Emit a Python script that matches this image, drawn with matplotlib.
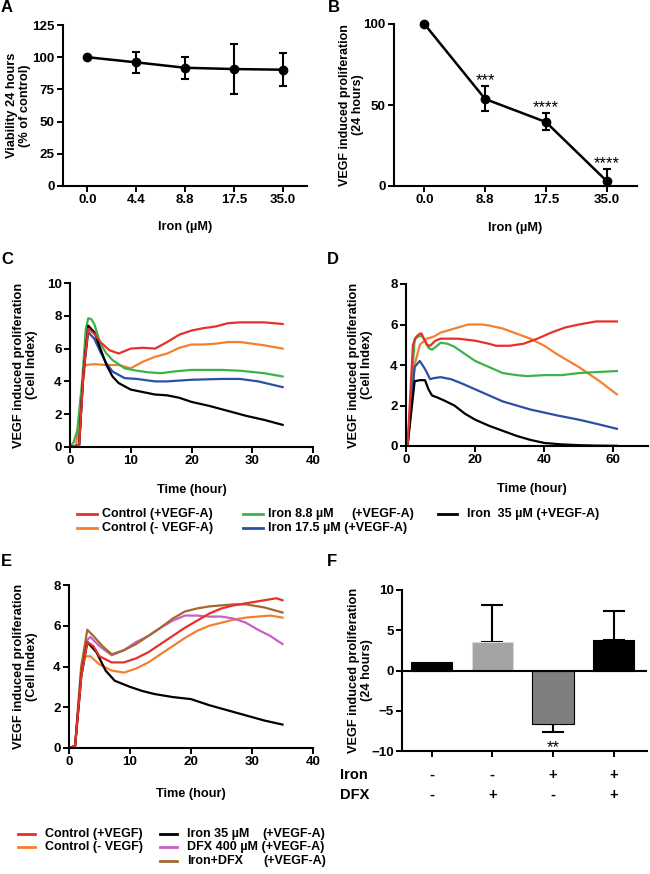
import matplotlib
matplotlib.use("Agg")
import matplotlib.pyplot as plt
from matplotlib.lines import Line2D
import matplotlib.transforms as mtransforms

plt.rcParams['font.family'] = ['Liberation Sans', 'DejaVu Sans']
plt.rcParams['font.weight'] = 'bold'

W, H = 650, 874

# ---------------- data ----------------
# Panel A
a_labels = ["0.0", "4.4", "8.8", "17.5", "35.0"]
a_mean = [100, 96, 91.8, 90.8, 90.3]
a_low = [100, 87.7, 83, 71.2, 77.6]
a_high = [100, 104, 100.4, 110.5, 103.3]

# Panel B
b_labels = ["0.0", "8.8", "17.5", "35.0"]
b_mean = [100, 53.7, 39.5, 3.1]
b_low = [100, 46.1, 34.6, 0]
b_high = [100, 61.5, 44.9, 10.5]
b_stars = ["", "***", "****", "****"]

# Panel C (time in hours, cell index)
c_red_t = [0, 1.5, 2.2, 3, 4, 5, 6.5, 8, 9, 10, 12, 14, 16, 18, 20, 22, 24, 26, 28, 30, 32, 35]
c_red_v = [0, 0.1, 4.5, 7.2, 6.9, 6.4, 5.9, 5.7, 5.85, 6.0, 6.05, 6.0, 6.4, 6.85, 7.1, 7.25, 7.35, 7.55, 7.6, 7.6, 7.6, 7.5]
c_org_t = [0, 1.0, 1.8, 2.5, 4, 6, 8, 9, 10, 12, 14, 16, 18, 20, 22, 24, 26, 28, 30, 32, 35]
c_org_v = [0, 0.1, 3.0, 5.0, 5.05, 5.0, 5.0, 4.9, 4.8, 5.2, 5.5, 5.7, 6.05, 6.25, 6.25, 6.3, 6.4, 6.4, 6.3, 6.2, 6.0]
c_grn_t = [0, 0.6, 1.2, 2.0, 2.6, 3.0, 3.5, 4.0, 5.0, 6.0, 7.0, 9.0, 11, 13, 15, 17, 20, 25, 28, 32, 35]
c_grn_v = [0, 0.3, 1.0, 4.0, 7.2, 7.85, 7.8, 7.5, 6.3, 5.7, 5.3, 4.8, 4.65, 4.55, 4.5, 4.6, 4.7, 4.7, 4.65, 4.5, 4.3]
c_blu_t = [0, 1.5, 2.2, 3.0, 4.0, 5.0, 6.0, 7.0, 9.0, 11, 14, 16, 18, 20, 25, 28, 31, 35]
c_blu_v = [0, 0.1, 4.5, 7.0, 6.6, 5.8, 5.1, 4.6, 4.2, 4.15, 4.0, 4.0, 4.05, 4.1, 4.15, 4.15, 4.0, 3.65]
c_blk_t = [0, 1.5, 2.2, 3.0, 4.0, 5.0, 6.0, 7.0, 8.0, 10, 12, 14, 16, 18, 20, 23, 26, 29, 32, 35]
c_blk_v = [0, 0.1, 4.5, 7.4, 7.0, 6.0, 5.0, 4.3, 3.9, 3.5, 3.35, 3.2, 3.15, 3.0, 2.75, 2.5, 2.2, 1.9, 1.65, 1.35]

# Panel D
d_red_t = [0, 0.5, 2, 3, 4, 4.5, 5.2, 6, 7, 8.5, 10, 15, 20, 24, 26, 30, 34, 38, 42, 46, 50, 55, 61]
d_red_v = [0, 0.1, 5.0, 5.4, 5.55, 5.55, 5.3, 5.0, 4.95, 5.2, 5.3, 5.3, 5.2, 5.05, 4.95, 4.95, 5.05, 5.3, 5.6, 5.85, 6.0, 6.15, 6.15]
d_org_t = [0, 0.5, 2.5, 4, 6, 8, 10, 14, 18, 22, 24, 28, 32, 36, 40, 44, 50, 56, 61]
d_org_v = [0, 0.1, 4.0, 5.0, 5.3, 5.4, 5.6, 5.8, 6.0, 6.0, 5.95, 5.8, 5.55, 5.3, 4.95, 4.5, 3.9, 3.2, 2.55]
d_grn_t = [0, 0.5, 2.5, 3.5, 4.5, 5.5, 6.5, 7.5, 9, 10, 12, 14, 17, 20, 24, 28, 32, 35, 40, 45, 50, 55, 61]
d_grn_v = [0, 0.1, 5.3, 5.4, 5.45, 5.2, 4.85, 4.75, 4.95, 5.1, 5.05, 4.9, 4.55, 4.2, 3.9, 3.6, 3.5, 3.45, 3.5, 3.5, 3.6, 3.65, 3.7]
d_blu_t = [0, 0.5, 2.5, 4, 5.5, 7, 8, 10, 13, 16, 20, 24, 28, 32, 36, 40, 44, 50, 55, 61]
d_blu_v = [0, 0.1, 3.9, 4.2, 3.8, 3.3, 3.35, 3.4, 3.3, 3.1, 2.8, 2.5, 2.2, 2.0, 1.8, 1.65, 1.5, 1.3, 1.1, 0.85]
d_blk_t = [0, 0.5, 2.5, 4, 5.5, 6.5, 7.5, 9, 11, 14, 17, 20, 24, 28, 32, 36, 40, 45, 50, 55, 61]
d_blk_v = [0, 0.1, 3.2, 3.25, 3.25, 2.8, 2.5, 2.4, 2.25, 2.0, 1.6, 1.3, 1.0, 0.75, 0.5, 0.3, 0.15, 0.08, 0.04, 0.02, 0.01]

# Panel E
e_red_t = [0, 1, 2, 3, 4, 5, 7, 9, 11, 13, 15, 17, 19, 21, 23, 25, 27, 29, 31, 33, 34, 35]
e_red_v = [0, 0.1, 3.5, 5.2, 5.0, 4.5, 4.2, 4.2, 4.4, 4.7, 5.1, 5.5, 5.9, 6.25, 6.6, 6.85, 7.0, 7.1, 7.2, 7.3, 7.35, 7.25]
e_org_t = [0, 1, 2, 2.5, 3.5, 5, 7, 9, 11, 13, 15, 17, 19, 21, 23, 25, 27, 29, 31, 33, 35]
e_org_v = [0, 0.1, 3.5, 4.5, 4.5, 4.1, 3.8, 3.7, 3.9, 4.2, 4.6, 5.0, 5.4, 5.75, 6.0, 6.15, 6.3, 6.4, 6.45, 6.5, 6.4]
e_pnk_t = [0, 1, 2, 3, 3.5, 5, 7, 9, 11, 13, 15, 17, 19, 21, 23, 25, 27, 29, 31, 33, 35]
e_pnk_v = [0, 0.1, 3.8, 5.3, 5.45, 5.0, 4.55, 4.8, 5.2, 5.5, 5.9, 6.25, 6.5, 6.5, 6.45, 6.45, 6.35, 6.15, 5.8, 5.5, 5.1]
e_brn_t = [0, 1, 2, 3, 4, 5.5, 7, 9, 11, 13, 15, 17, 19, 21, 23, 25, 27, 29, 32, 35]
e_brn_v = [0, 0.1, 4.0, 5.8, 5.5, 5.0, 4.6, 4.8, 5.1, 5.5, 5.9, 6.35, 6.7, 6.85, 6.95, 7.0, 7.05, 7.05, 6.9, 6.65]
e_blk_t = [0, 1, 2, 3, 4.5, 6, 7.5, 10, 12, 14, 17, 20, 23, 26, 29, 32, 35]
e_blk_v = [0, 0.1, 3.5, 5.2, 4.7, 3.8, 3.3, 3.0, 2.8, 2.65, 2.5, 2.4, 2.1, 1.85, 1.6, 1.35, 1.15]

# Panel F
f_vals = [1.0, 3.6, -6.6, 3.8]
f_err = [0.0, 4.5, 1.0, 3.6]
f_iron = ["-", "-", "+", "+"]
f_dfx = ["-", "+", "-", "+"]

RED = "#e8302a"
ORG = "#f4802f"
GRN = "#3cb34a"
BLU = "#2b4ea6"
BLK = "#000000"
PNK = "#c95fc6"
BRN = "#a2692e"

fig = plt.figure(figsize=(W / 100, H / 100), dpi=100)


def rect(left, bottom, width, height):
    return [left / W, 1 - bottom / H, width / W, height / H]


TICK_FS = 9.6
LAB_FS = 9.2


def style(ax):
    for s in ["top", "right"]:
        ax.spines[s].set_visible(False)
    for s in ["left", "bottom"]:
        ax.spines[s].set_linewidth(1.5)
    ax.tick_params(width=1.4, length=4, labelsize=TICK_FS, direction="out", pad=2)
    for lab in ax.get_xticklabels() + ax.get_yticklabels():
        lab.set_fontweight("bold")


def ftext(x, y, s, **kw):
    fig.text(x / W, 1 - y / H, s, **kw)


def fline(x0, x1, y, color):
    fig.add_artist(Line2D([x0 / W, x1 / W], [1 - y / H, 1 - y / H], color=color, lw=2.0,
                          transform=fig.transFigure))


# ---------------- A ----------------
axA = fig.add_axes(rect(63, 186, 244, 161))
xa = list(range(len(a_labels)))
axA.errorbar(xa, a_mean,
             yerr=[[m - l for m, l in zip(a_mean, a_low)], [h - m for m, h in zip(a_mean, a_high)]],
             color="black", lw=1.8, marker="o", ms=6, capsize=3, elinewidth=1.5, capthick=1.5)
axA.set_xlim(-0.5, 4.5)
axA.set_ylim(0, 125)
axA.set_yticks([0, 25, 50, 75, 100, 125])
axA.set_xticks(xa)
axA.set_xticklabels(a_labels)
style(axA)
axA.set_ylabel("Viability 24 hours\n(% of control)", fontsize=LAB_FS, fontweight="bold", linespacing=1.1)
axA.yaxis.set_label_coords(-0.13, 0.5)
axA.set_xlabel("Iron (µM)", fontsize=LAB_FS, fontweight="bold")
axA.xaxis.set_label_coords(0.5, -0.22)

# ---------------- B ----------------
axB = fig.add_axes(rect(394, 186, 243, 162))
xb = list(range(len(b_labels)))
axB.errorbar(xb, b_mean,
             yerr=[[m - l for m, l in zip(b_mean, b_low)], [h - m for m, h in zip(b_mean, b_high)]],
             color="black", lw=1.8, marker="o", ms=6, capsize=3, elinewidth=1.5, capthick=1.5,
             clip_on=False)
for x, h, s in zip(xb, b_high, b_stars):
    if s:
        axB.text(x, h + 0.5, s, ha="center", va="baseline", fontsize=12, fontweight="normal")
axB.set_xlim(-0.5, 3.5)
axB.set_ylim(0, 100)
axB.set_yticks([0, 50, 100])
axB.set_xticks(xb)
axB.set_xticklabels(b_labels)
style(axB)
axB.set_ylabel("VEGF induced proliferation\n(24 hours)", fontsize=9.0, fontweight="bold", linespacing=1.1)
axB.yaxis.set_label_coords(-0.123, 0.5)
axB.set_xlabel("Iron (µM)", fontsize=LAB_FS, fontweight="bold")
axB.xaxis.set_label_coords(0.5, -0.22)

# ---------------- C ----------------
axC = fig.add_axes(rect(70, 447, 243, 164))
for t, v, c in [(c_org_t, c_org_v, ORG), (c_grn_t, c_grn_v, GRN), (c_blu_t, c_blu_v, BLU),
                (c_blk_t, c_blk_v, BLK), (c_red_t, c_red_v, RED)]:
    axC.plot(t, v, color=c, lw=1.6)
axC.set_xlim(0, 40)
axC.set_ylim(0, 10)
axC.set_xticks([0, 10, 20, 30, 40])
axC.set_yticks([0, 2, 4, 6, 8, 10])
style(axC)
axC.set_ylabel("VEGF induced proliferation\n(Cell Index)", fontsize=LAB_FS, fontweight="bold", linespacing=1.1)
axC.yaxis.set_label_coords(-0.132, 0.5)
axC.set_xlabel("Time (hour)", fontsize=LAB_FS, fontweight="bold")
axC.xaxis.set_label_coords(0.5, -0.225)

# ---------------- D ----------------
axD = fig.add_axes(rect(406, 446, 242, 162))
for t, v, c in [(d_org_t, d_org_v, ORG), (d_grn_t, d_grn_v, GRN), (d_blu_t, d_blu_v, BLU),
                (d_blk_t, d_blk_v, BLK), (d_red_t, d_red_v, RED)]:
    axD.plot(t, v, color=c, lw=1.6)
axD.set_xlim(0, 70)
axD.set_ylim(0, 8)
axD.set_xticks([0, 20, 40, 60])
axD.set_yticks([0, 2, 4, 6, 8])
style(axD)
axD.set_ylabel("VEGF induced proliferation\n(Cell Index)", fontsize=LAB_FS, fontweight="bold", linespacing=1.1)
axD.yaxis.set_label_coords(-0.136, 0.5)
axD.set_xlabel("Time (hour)", fontsize=LAB_FS, fontweight="bold")
axD.xaxis.set_label_coords(0.52, -0.228)

# ---------------- E ----------------
axE = fig.add_axes(rect(69, 748, 244, 163))
for t, v, c in [(e_org_t, e_org_v, ORG), (e_pnk_t, e_pnk_v, PNK), (e_brn_t, e_brn_v, BRN),
                (e_blk_t, e_blk_v, BLK), (e_red_t, e_red_v, RED)]:
    axE.plot(t, v, color=c, lw=1.6)
axE.set_xlim(0, 40)
axE.set_ylim(0, 8)
axE.set_xticks([0, 10, 20, 30, 40])
axE.set_yticks([0, 2, 4, 6, 8])
style(axE)
axE.set_ylabel("VEGF induced proliferation\n(Cell Index)", fontsize=LAB_FS, fontweight="bold", linespacing=1.1)
axE.yaxis.set_label_coords(-0.127, 0.5)
axE.set_xlabel("Time (hour)", fontsize=LAB_FS, fontweight="bold")
axE.xaxis.set_label_coords(0.5, -0.245)

# ---------------- F ----------------
axF = fig.add_axes(rect(402, 751, 245, 161))
xf = list(range(len(f_vals)))
f_colors = ["#000000", "#a3a3a3", "#7f7f7f", "#000000"]
axF.bar(xf, f_vals, width=0.68, color=f_colors,
        edgecolor=["#000000", "#d9d9d9", "#000000", "#000000"], linewidth=0.8, zorder=2)
for x, v, e in zip(xf, f_vals, f_err):
    if e > 0:
        if v >= 0:
            axF.errorbar([x], [v], yerr=[[0], [e]], color="black", capsize=8, elinewidth=1.5, capthick=1.5, zorder=1)
        else:
            axF.errorbar([x], [v], yerr=[[e], [0]], color="black", capsize=8, elinewidth=1.5, capthick=1.5, zorder=1)
axF.text(2, f_vals[2] - f_err[2] - 2.6, "**", ha="center", va="baseline", fontsize=12, fontweight="normal")
axF.axhline(0, color="black", lw=1.5, zorder=3)
axF.set_xlim(-0.49, 3.55)
axF.set_ylim(-10, 10)
axF.set_yticks([-10, -5, 0, 5, 10])
axF.set_xticks(xf)
axF.set_xticklabels([])
style(axF)
axF.set_ylabel("VEGF induced proliferation\n(24 hours)", fontsize=LAB_FS, fontweight="bold", linespacing=1.1)
axF.yaxis.set_label_coords(-0.118, 0.5)
trF = mtransforms.blended_transform_factory(axF.transData, axF.transAxes)
for x, s1, s2 in zip(xf, f_iron, f_dfx):
    axF.text(x, -0.149, s1, transform=trF, ha="center", va="center", fontsize=10.5, fontweight="bold")
    axF.text(x, -0.273, s2, transform=trF, ha="center", va="center", fontsize=10.5, fontweight="bold")
ftext(340, 775, "Iron", ha="left", va="center", fontsize=10.5, fontweight="bold")
ftext(340, 795, "DFX", ha="left", va="center", fontsize=10.5, fontweight="bold")

# ---------------- panel letters ----------------
for x, y, s in [(1, 8, "A"), (328, 8, "B"), (1, 260, "C"), (327, 260, "D"), (1, 562, "E"), (327, 562, "F")]:
    ftext(x, y, s, ha="left", va="center", fontsize=12, fontweight="bold")

# ---------------- legend for C/D ----------------
LFS = 9.0
fline(77, 97, 514, RED)
ftext(102, 514, "Control (+VEGF-A)", ha="left", va="center", fontsize=LFS)
fline(77, 97, 528, ORG)
ftext(102, 528, "Control (- VEGF-A)", ha="left", va="center", fontsize=LFS)
fline(243, 263, 514, GRN)
ftext(268, 514, "Iron 8.8 µM", ha="left", va="center", fontsize=LFS)
ftext(351, 514, "(+VEGF-A)", ha="left", va="center", fontsize=LFS)
fline(243, 263, 528, BLU)
ftext(268, 528, "Iron 17.5 µM (+VEGF-A)", ha="left", va="center", fontsize=LFS)
fline(438, 457, 514, BLK)
ftext(467, 514, "Iron  35 µM (+VEGF-A)", ha="left", va="center", fontsize=LFS)

# ---------------- legend for E ----------------
fline(18, 35, 834, RED)
ftext(45, 834, "Control (+VEGF)", ha="left", va="center", fontsize=LFS)
fline(18, 35, 847, ORG)
ftext(45, 847, "Control (- VEGF)", ha="left", va="center", fontsize=LFS)
fline(160, 177, 834, BLK)
ftext(187, 834, "Iron 35 µM", ha="left", va="center", fontsize=LFS)
ftext(262, 834, "(+VEGF-A)", ha="left", va="center", fontsize=LFS)
fline(160, 177, 847, PNK)
ftext(187, 847, "DFX 400 µM (+VEGF-A)", ha="left", va="center", fontsize=LFS)
fline(160, 177, 861, BRN)
ftext(187, 861, "Iron+DFX", ha="left", va="center", fontsize=LFS)
ftext(263, 861, "(+VEGF-A)", ha="left", va="center", fontsize=LFS)

fig.savefig("out.png", dpi=100)
